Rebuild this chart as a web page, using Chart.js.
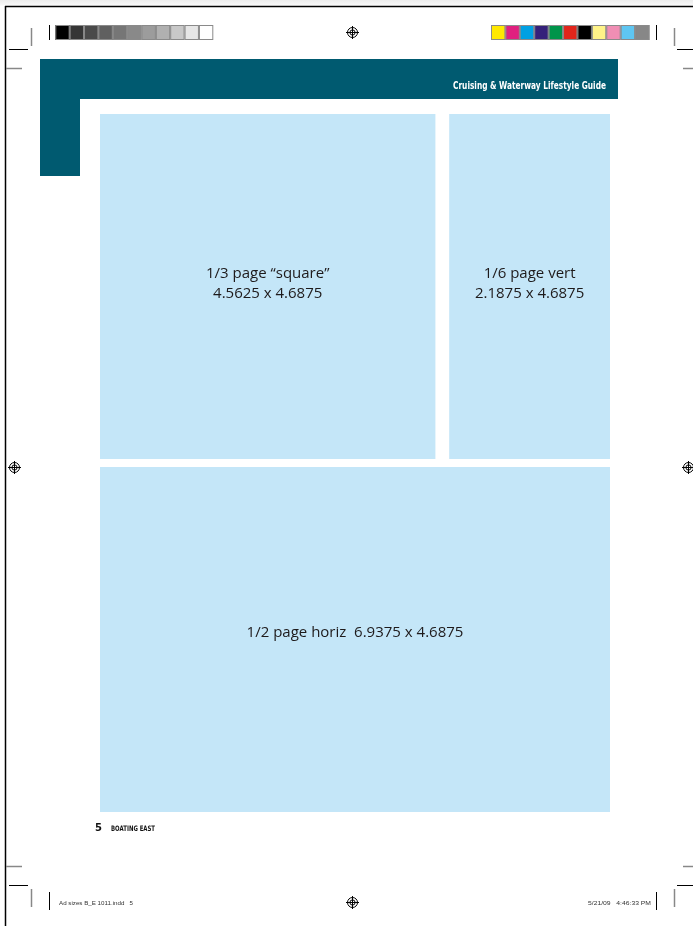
<!DOCTYPE html>
<html>
<head>
<meta charset="utf-8">
<script src="https://cdn.jsdelivr.net/npm/chart.js@4"></script>
<style>
  html, body { margin: 0; padding: 0; background: #ffffff; }
  canvas { display: block; }
</style>
</head>
<body>
<canvas id="Page" width="693" height="926"></canvas>
<script>
// ad sizes in inches, as printed on the page
const adNames = ['1/3 page \u201csquare\u201d', '1/6 page vert', '1/2 page horiz'];
const adWidths = [4.5625, 2.1875, 6.9375];
const adHeights = [4.6875, 4.6875, 4.6875];
const adStarts = [0, 4.75, 0];
const adRows = ['top', 'top', 'bottom'];
const rows = ['top', 'bottom'];

const grayBars = ['#000000', '#363636', '#4a4a4a', '#606060', '#767676', '#898989', '#9c9c9c', '#b0b0b0', '#c8c8c8', '#e6e6e6', '#ffffff'];
const colorBars = ['#ffe800', '#e0207f', '#00a0e3', '#35217a', '#00944a', '#e1251b', '#000000', '#fff388', '#f08eb4', '#5ec6f2', '#878787'];

const headerText = 'Cruising & Waterway Lifestyle Guide';
const pageNumber = '5';
const magazine = 'BOATING EAST';
const slugLeft = 'Ad sizes B_E 1011.indd   5';
const slugRight = '5/21/09   4:46:33 PM';

var ctx = document.getElementById('Page').getContext('2d');

function fitText(c, text, x, y, w, font, align) {
  c.save();
  c.font = font;
  var m = c.measureText(text).width;
  var s = w / m;
  var x0 = align === 'right' ? x - w : x;
  c.translate(x0, y);
  c.scale(s, 1);
  c.textAlign = 'left';
  c.textBaseline = 'alphabetic';
  c.fillText(text, 0, 0);
  c.restore();
}

function regMark(c, x, y) {
  c.save();
  c.strokeStyle = '#000';
  c.lineWidth = 1;
  c.beginPath(); c.arc(x, y, 5, 0, Math.PI * 2); c.stroke();
  c.beginPath(); c.arc(x, y, 2.6, 0, Math.PI * 2); c.stroke();
  c.beginPath();
  c.moveTo(x - 6.5, y); c.lineTo(x + 6.5, y);
  c.moveTo(x, y - 6.5); c.lineTo(x, y + 6.5);
  c.stroke();
  c.restore();
}

function line(c, x1, y1, x2, y2, color, w) {
  c.save();
  c.strokeStyle = color;
  c.lineWidth = w;
  c.beginPath(); c.moveTo(x1, y1); c.lineTo(x2, y2); c.stroke();
  c.restore();
}

function swatches(c, colors, x0, x1, y0, y1) {
  var w = (x1 - x0) / colors.length;
  for (var i = 0; i < colors.length; i++) {
    c.fillStyle = colors[i];
    c.fillRect(x0 + i * w, y0, w, y1 - y0);
  }
  c.strokeStyle = '#8a8a8a';
  c.lineWidth = 1;
  for (var i = 0; i < colors.length; i++) {
    c.strokeRect(x0 + i * w + 0.5, y0 + 0.5, w - 1, y1 - y0 - 1);
  }
}

const pageFurniture = {
  id: 'pageFurniture',
  beforeDraw(chart) {
    var c = chart.ctx;
    c.save();
    c.fillStyle = '#ffffff';
    c.fillRect(0, 0, chart.width, chart.height);
    var g = c.createLinearGradient(0, 0, 0, 6);
    g.addColorStop(0, '#ececec');
    g.addColorStop(1, '#fafafa');
    c.fillStyle = g;
    c.fillRect(0, 0, chart.width, 5.5);

    // trim edge
    line(c, 5.5, 6, 5.5, 926, '#000', 1.5);
    line(c, 5, 6.5, 693, 6.5, '#000', 1.5);

    // colour bars
    swatches(c, grayBars, 55.3, 213.3, 25, 40);
    swatches(c, colorBars, 491, 649.5, 25, 40);
    line(c, 49.5, 25, 49.5, 40, '#000', 1);
    line(c, 656.5, 25, 656.5, 40, '#000', 1);

    // crop marks
    line(c, 31.5, 28, 31.5, 46, '#888', 1.5);
    line(c, 9, 49.5, 28, 49.5, '#000', 1);
    line(c, 6, 68.5, 22, 68.5, '#888', 1.5);
    line(c, 674.5, 28, 674.5, 46, '#888', 1.5);
    line(c, 677, 49.5, 693, 49.5, '#000', 1);
    line(c, 683, 68.5, 693, 68.5, '#888', 1.5);
    line(c, 6, 866.5, 22, 866.5, '#888', 1.5);
    line(c, 9, 885.5, 28, 885.5, '#000', 1);
    line(c, 31.5, 889, 31.5, 907, '#888', 1.5);
    line(c, 49.5, 892, 49.5, 910, '#000', 1);
    line(c, 683, 866.5, 693, 866.5, '#888', 1.5);
    line(c, 677, 885.5, 693, 885.5, '#000', 1);
    line(c, 674.5, 889, 674.5, 907, '#888', 1.5);
    line(c, 656.5, 892, 656.5, 910, '#000', 1);

    regMark(c, 352.5, 32.5);
    regMark(c, 352.5, 902.5);
    regMark(c, 14.5, 467.5);
    regMark(c, 688.5, 467.5);

    // teal header
    c.fillStyle = '#005a70';
    c.fillRect(40, 59, 578, 40);
    c.fillRect(40, 59, 40, 117);
    c.fillStyle = '#ffffff';
    fitText(c, headerText, 606, 89, 153, 'bold 10px "DejaVu Sans"', 'right');

    // folio
    c.fillStyle = '#111111';
    c.font = 'bold 10px "DejaVu Sans"';
    c.textBaseline = 'alphabetic';
    c.textAlign = 'left';
    c.fillText(pageNumber, 95, 831);
    fitText(c, magazine, 111, 831, 44, 'bold 7.5px "DejaVu Sans"', 'left');

    // slug
    c.fillStyle = '#333333';
    fitText(c, slugLeft, 59, 905, 74, '6px "Liberation Sans"', 'left');
    fitText(c, slugRight, 651, 905, 63, '6px "Liberation Sans"', 'right');
    c.restore();
  }
};

const adLabels = {
  id: 'adLabels',
  afterDatasetsDraw(chart) {
    var c = chart.ctx;
    c.save();
    c.fillStyle = '#1e1a1b';
    c.font = '15px "Open Sans"';
    c.textAlign = 'center';
    c.textBaseline = 'middle';
    chart.data.datasets.forEach(function (ds, i) {
      var meta = chart.getDatasetMeta(i);
      meta.data.forEach(function (bar, j) {
        if (ds.data[j] == null) return;
        var cx = (bar.x + bar.base) / 2;
        var dims = adWidths[i] + ' x ' + adHeights[i];
        var lines = adWidths[i] > 5 ? [adNames[i] + '  ' + dims] : [adNames[i], dims];
        var cy = bar.y - (lines.length > 1 ? 3 : 7);
        for (var k = 0; k < lines.length; k++) {
          c.fillText(lines[k], cx, cy + (k - (lines.length - 1) / 2) * 20);
        }
      });
    });
    c.restore();
  }
};

var datasets = adNames.map(function (name, i) {
  return {
    label: name,
    data: rows.map(function (r) {
      return r === adRows[i] ? [adStarts[i], adStarts[i] + adWidths[i]] : null;
    }),
    backgroundColor: '#c4e6f8',
    borderWidth: 0,
    grouped: false,
    barPercentage: 345 / 353,
    categoryPercentage: 1
  };
});

var pageChart = new Chart(ctx, {
  type: 'bar',
  data: {
    labels: rows,
    datasets: datasets
  },
  options: {
    indexAxis: 'y',
    responsive: false,
    animation: false,
    layout: { padding: { left: 100, right: 83, top: 110, bottom: 110 } },
    plugins: {
      legend: { display: false },
      tooltip: { enabled: false }
    },
    scales: {
      x: { type: 'linear', min: 0, max: 6.9375, display: false },
      y: { type: 'category', offset: true, display: false }
    }
  },
  plugins: [pageFurniture, adLabels]
});
</script>
</body>
</html>
